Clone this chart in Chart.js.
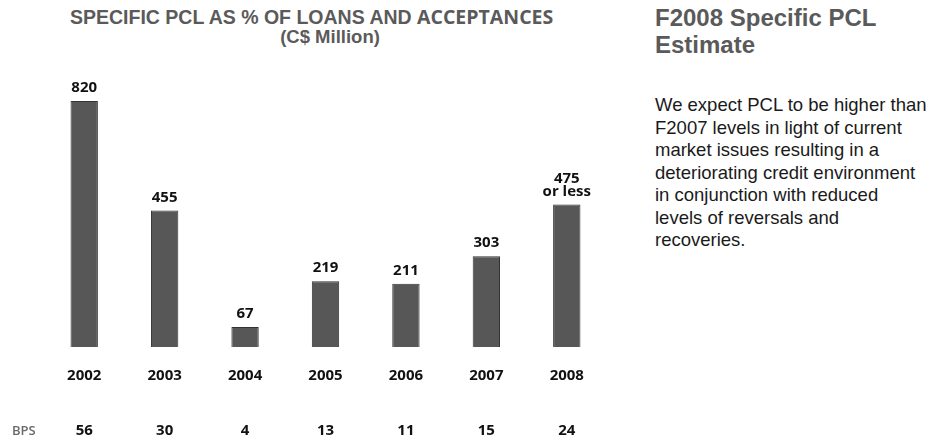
<!DOCTYPE html>
<html>
<head>
<meta charset="utf-8">
<script src="https://cdn.jsdelivr.net/npm/chart.js@4.4.0/dist/chart.umd.min.js"></script>
<style>
  body { margin: 0; background: #fff; width: 932px; height: 441px; position: relative; overflow: hidden; font-family: "Liberation Sans", Arial, sans-serif; }
  #wrap { position: absolute; left: 0; top: 0; width: 640px; height: 441px; }
  .title { position: absolute; left: 70px; top: 7px; font-size: 19.5px; line-height: 20px; font-weight: bold; color: #5a5a5a; white-space: nowrap; }
  .title span { font-family: "Open Sans", "DejaVu Sans", sans-serif; }
  .sub { position: absolute; left: 70px; width: 520px; top: 27px; text-align: center; font-size: 18.5px; line-height: 20px; font-weight: bold; color: #5a5a5a; white-space: nowrap; }
  .side-h { position: absolute; left: 655px; top: 4px; font-size: 24px; font-weight: bold; color: #5a5a5a; line-height: 27px; white-space: nowrap; }
  .side-p { position: absolute; left: 655px; top: 94px; width: 280px; font-size: 18.5px; color: #1a1a1a; line-height: 22.5px; white-space: nowrap; }
</style>
</head>
<body>
<div class="title">SPECIFIC PCL AS % OF LOANS AND <span>ACCEPTANCES</span></div>
<div class="sub">(C$ Million)</div>
<div id="wrap"><canvas id="pclChart"></canvas></div>
<div class="side-h">F2008 Specific PCL<br>Estimate</div>
<div class="side-p">We expect PCL to be higher than<br>F2007 levels in light of current<br>market issues resulting in a<br>deteriorating credit environment<br>in conjunction with reduced<br>levels of reversals and<br>recoveries.</div>

<script>
/* -------------------------
   Data
   ------------------------- */
const years = ['2002', '2003', '2004', '2005', '2006', '2007', '2008'];
const pcl = [820, 455, 67, 219, 211, 303, 475];
const pclLabels = [['820'], ['455'], ['67'], ['219'], ['211'], ['303'], ['475', 'or less']];
const bps = ['56', '30', '4', '13', '11', '15', '24'];

const labelFont = 'bold 15px "Open Sans", "DejaVu Sans", sans-serif';

// draws value labels, year labels and the BPS row
const barText = {
  id: 'barText',
  afterDatasetsDraw(chart) {
    const ctx = chart.ctx;
    const meta = chart.getDatasetMeta(0);
    const base = chart.scales.y.getPixelForValue(0);
    ctx.save();
    ctx.textAlign = 'center';
    ctx.textBaseline = 'alphabetic';
    ctx.font = labelFont;
    ctx.fillStyle = '#111';
    meta.data.forEach((bar, i) => {
      const lines = pclLabels[i];
      lines.forEach((t, k) => {
        const y = bar.y - 9 - (lines.length - 1 - k) * 13;
        ctx.fillText(t, bar.x, y);
      });
      ctx.fillText(years[i], bar.x, base + 33);
      ctx.fillText(bps[i], bar.x, base + 88);
    });
    ctx.fillStyle = '#6a6a6a';
    ctx.font = '600 13px "Open Sans", "DejaVu Sans", sans-serif';
    ctx.textAlign = 'left';
    ctx.fillText('BPS', 12, base + 88);
    ctx.restore();
  }
};

new Chart(document.getElementById('pclChart'), {
  type: 'bar',
  data: {
    labels: years,
    datasets: [{
      data: pcl,
      backgroundColor: '#575757',
      borderColor: '#333',
      borderWidth: 1,
      barPercentage: 0.34,
      categoryPercentage: 1
    }]
  },
  options: {
    responsive: true,
    maintainAspectRatio: false,
    animation: false,
    layout: { padding: { left: 44, right: 33, top: 60, bottom: 94 } },
    plugins: { legend: { display: false }, tooltip: { enabled: false } },
    scales: {
      x: { display: false },
      y: { display: false, min: 0, max: 957 }
    }
  },
  plugins: [barText]
});
</script>
</body>
</html>
